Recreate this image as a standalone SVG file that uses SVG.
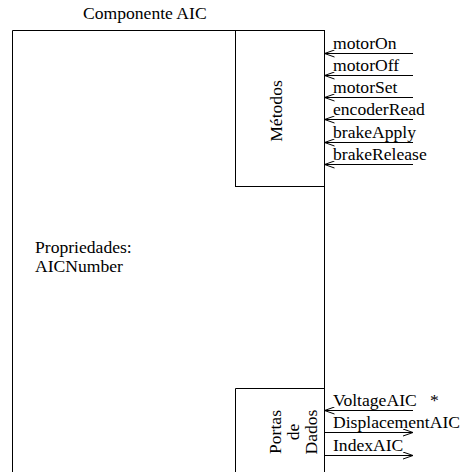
<svg xmlns="http://www.w3.org/2000/svg" width="462" height="472" viewBox="0 0 462 472">
<defs>
<style>
.ln{stroke:#000;stroke-width:1;fill:none}
.t{font-family:"Liberation Serif","Times New Roman",serif;font-size:17.6px;fill:#000}
</style>
<marker id="ah" viewBox="0 0 10 8" refX="10" refY="4" markerWidth="10" markerHeight="8" markerUnits="userSpaceOnUse" orient="auto-start-reverse">
<path d="M0,0.5 L10,4 L0,7.5" fill="none" stroke="#000" stroke-width="1"/>
</marker>
</defs>
<rect width="462" height="472" fill="#fff"/>
<g id="componente">
<path class="ln" d="M12.5,480 V30.5 H324.5 V480"/>
<text class="t" x="83" y="19">Componente AIC</text>
<text class="t" x="35" y="253">Propriedades:</text>
<text class="t" x="35" y="272">AICNumber</text>
</g>
<g id="metodos">
<rect class="ln" x="235.5" y="30.5" width="89" height="156"/>
<text class="t" text-anchor="middle" transform="translate(282,111) rotate(-90)">Métodos</text>
</g>
<g id="portas">
<path class="ln" d="M235.5,480 V388.5 H324.5"/>
<text class="t" text-anchor="middle" transform="translate(281,432) rotate(-90)">Portas</text>
<text class="t" text-anchor="middle" transform="translate(299,432) rotate(-90)">de</text>
<text class="t" text-anchor="middle" transform="translate(317,432) rotate(-90)">Dados</text>
</g>
<g id="connectors">
<line class="ln" x1="324.5" y1="53.5" x2="413" y2="53.5" marker-start="url(#ah)"/>
<line class="ln" x1="324.5" y1="75.5" x2="413" y2="75.5" marker-start="url(#ah)"/>
<line class="ln" x1="324.5" y1="97.5" x2="413" y2="97.5" marker-start="url(#ah)"/>
<line class="ln" x1="324.5" y1="119.5" x2="413" y2="119.5" marker-start="url(#ah)"/>
<line class="ln" x1="324.5" y1="142.5" x2="413" y2="142.5" marker-start="url(#ah)"/>
<line class="ln" x1="324.5" y1="164.5" x2="413" y2="164.5" marker-start="url(#ah)"/>
<line class="ln" x1="324.5" y1="410.5" x2="413" y2="410.5" marker-start="url(#ah)"/>
<line class="ln" x1="324.5" y1="432.5" x2="413" y2="432.5" marker-end="url(#ah)"/>
<line class="ln" x1="324.5" y1="455.5" x2="413" y2="455.5" marker-end="url(#ah)"/>
<text class="t" x="333" y="49">motorOn</text>
<text class="t" x="333" y="71">motorOff</text>
<text class="t" x="333" y="93">motorSet</text>
<text class="t" x="333" y="115">encoderRead</text>
<text class="t" x="333" y="138">brakeApply</text>
<text class="t" x="333" y="160">brakeRelease</text>
<text class="t" x="333" y="406">VoltageAIC</text>
<text class="t" x="430" y="406">*</text>
<text class="t" x="333" y="428">DisplacementAIC</text>
<text class="t" x="333" y="451">IndexAIC</text>
</g>
</svg>
